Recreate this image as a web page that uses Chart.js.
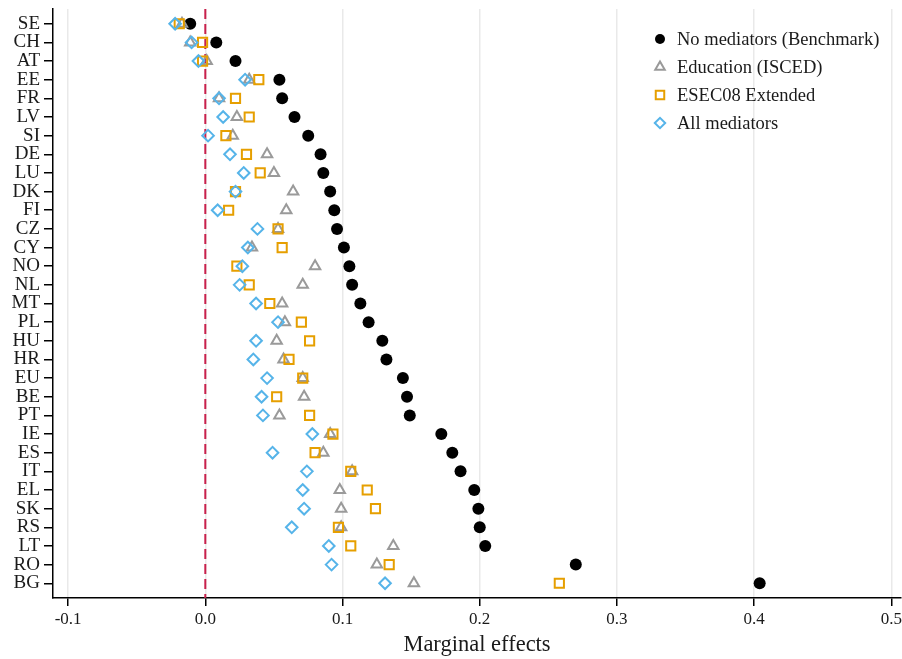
<!DOCTYPE html>
<html>
<head>
<meta charset="utf-8">
<script src="https://cdn.jsdelivr.net/npm/chart.js@4.4.1/dist/chart.umd.min.js"></script>
<style>
  html, body { margin: 0; padding: 0; background: #fff; }
  #wrap { width: 902px; height: 659px; position: relative; }
</style>
</head>
<body>
<div id="wrap"><canvas id="c" width="902" height="659"></canvas></div>
<script>
// Countries, top to bottom
const categories = ['SE','CH','AT','EE','FR','LV','SI','DE','LU','DK','FI','CZ','CY','NO','NL','MT','PL','HU','HR','EU','BE','PT','IE','ES','IT','EL','SK','RS','LT','RO','BG'];

// Marginal effects by model specification
const benchmark = [-0.011, 0.008, 0.022, 0.054, 0.056, 0.065, 0.075, 0.084, 0.086, 0.091, 0.094, 0.096, 0.101, 0.105, 0.107, 0.113, 0.119, 0.129, 0.132, 0.144, 0.147, 0.149, 0.172, 0.180, 0.186, 0.196, 0.199, 0.200, 0.204, 0.270, 0.404];
const education = [-0.017, -0.011, 0.001, 0.032, 0.010, 0.023, 0.020, 0.045, 0.050, 0.064, 0.059, 0.053, 0.034, 0.080, 0.071, 0.056, 0.058, 0.052, 0.057, 0.071, 0.072, 0.054, 0.091, 0.086, 0.107, 0.098, 0.099, 0.099, 0.137, 0.125, 0.152];
const esec08 = [-0.019, -0.002, -0.002, 0.039, 0.022, 0.032, 0.015, 0.030, 0.040, 0.022, 0.017, 0.053, 0.056, 0.023, 0.032, 0.047, 0.070, 0.076, 0.061, 0.071, 0.052, 0.076, 0.093, 0.080, 0.106, 0.118, 0.124, 0.097, 0.106, 0.134, 0.258];
const allMediators = [-0.022, -0.010, -0.005, 0.029, 0.010, 0.013, 0.002, 0.018, 0.028, 0.022, 0.009, 0.038, 0.031, 0.027, 0.025, 0.037, 0.053, 0.037, 0.035, 0.045, 0.041, 0.042, 0.078, 0.049, 0.074, 0.071, 0.072, 0.063, 0.090, 0.092, 0.131];

// X axis tick values
const xTicks = [-0.1, 0.0, 0.1, 0.2, 0.3, 0.4, 0.5];

const seriesNames = ['No mediators (Benchmark)', 'Education (ISCED)', 'ESEC08 Extended', 'All mediators'];

const FONT = "'Liberation Serif', 'Times New Roman', serif";
const TEXT = '#1a1a1a';

const toPoints = arr => arr.map((v, i) => ({ x: v, y: i + 1 }));

const Y_MIN = 0.21, Y_MAX = categories.length + 0.79;

const datasets = [
  {
    label: seriesNames[0],
    data: toPoints(benchmark),
    pointStyle: 'circle',
    pointRadius: 6,
    backgroundColor: '#000000',
    borderColor: '#000000',
    borderWidth: 0,
    order: 4
  },
  {
    label: seriesNames[1],
    data: toPoints(education),
    pointStyle: 'triangle',
    pointRadius: 6,
    backgroundColor: 'rgba(0,0,0,0)',
    borderColor: '#9a9a9a',
    borderWidth: 2,
    order: 3
  },
  {
    label: seriesNames[2],
    data: toPoints(esec08),
    pointStyle: 'rect',
    pointRadius: 6.5,
    backgroundColor: 'rgba(0,0,0,0)',
    borderColor: '#e69f00',
    borderWidth: 2,
    order: 2
  },
  {
    label: seriesNames[3],
    data: toPoints(allMediators),
    pointStyle: 'rectRot',
    pointRadius: 5.8,
    backgroundColor: 'rgba(0,0,0,0)',
    borderColor: '#56b4e9',
    borderWidth: 2,
    order: 1
  },
  {
    // zero reference line
    type: 'line',
    label: 'zero',
    data: [{ x: 0, y: Y_MIN }, { x: 0, y: Y_MAX }],
    borderColor: '#c8204c',
    borderWidth: 2,
    borderDash: [10, 5],
    pointRadius: 0,
    fill: false,
    order: 5
  }
];

// Legend inside the plot area, top right, using each series' marker style
const legendPlugin = {
  id: 'legendPlugin',
  afterDatasetsDraw(chart) {
    const ctx = chart.ctx;
    const x0 = 660, y0 = 39, step = 28;
    ctx.save();
    for (let k = 0; k < 4; k++) {
      const ds = chart.data.datasets[k];
      const y = y0 + k * step;
      ctx.fillStyle = ds.backgroundColor;
      ctx.strokeStyle = ds.borderColor;
      ctx.lineWidth = ds.borderWidth;
      const r = [5, 5.5, 6, 5.2][k];
      Chart.helpers.drawPoint(ctx, { pointStyle: ds.pointStyle, radius: r, borderWidth: ds.borderWidth, rotation: 0 }, x0, y);
      ctx.font = '18.5px ' + FONT;
      ctx.fillStyle = TEXT;
      ctx.textBaseline = 'middle';
      ctx.textAlign = 'left';
      ctx.fillText(seriesNames[k], x0 + 17, y + 1);
    }
    ctx.restore();
  }
};

new Chart(document.getElementById('c'), {
  type: 'scatter',
  data: { datasets },
  plugins: [legendPlugin],
  options: {
    responsive: false,
    animation: false,
    layout: { autoPadding: false, padding: { top: 9, right: 1, left: 0, bottom: 0 } },
    plugins: {
      legend: { display: false },
      tooltip: { enabled: false }
    },
    scales: {
      x: {
        type: 'linear',
        min: -0.111,
        max: 0.507,
        afterBuildTicks(scale) { scale.ticks = xTicks.map(v => ({ value: v })); },
        afterFit(scale) {
          scale.height = 61;
          scale.paddingLeft = 0;
          scale.paddingRight = 0;
        },
        ticks: {
          callback: v => v.toFixed(1),
          font: { family: FONT, size: 17 },
          color: TEXT,
          padding: 3,
          maxRotation: 0
        },
        grid: {
          color: '#e9e9e9',
          lineWidth: 1.5,
          tickColor: '#000',
          tickLength: 8,
          drawTicks: true
        },
        border: { display: true, color: '#000', width: 1.5 },
        title: {
          display: true,
          text: 'Marginal effects',
          font: { family: FONT, size: 22.5 },
          color: TEXT,
          padding: { top: 1, bottom: 0 }
        }
      },
      y: {
        type: 'linear',
        reverse: true,
        min: Y_MIN,
        max: Y_MAX,
        afterBuildTicks(scale) { scale.ticks = categories.map((c, i) => ({ value: i + 1 })); },
        afterFit(scale) {
          scale.width = 53;
          scale.paddingTop = 0;
          scale.paddingBottom = 0;
        },
        ticks: {
          callback: v => categories[Math.round(v) - 1],
          font: { family: FONT, size: 19 },
          color: TEXT,
          padding: 4,
          autoSkip: false
        },
        grid: {
          drawOnChartArea: false,
          color: '#000',
          tickColor: '#000',
          lineWidth: 1.5,
          tickLength: 9
        },
        border: { display: true, color: '#000', width: 1.5 }
      }
    }
  }
});
</script>
</body>
</html>
